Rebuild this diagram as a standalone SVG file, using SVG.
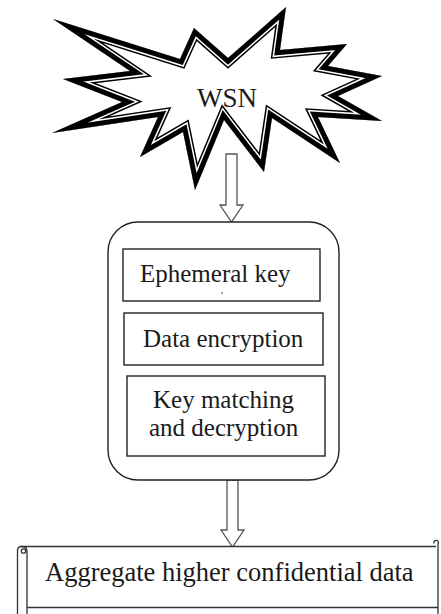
<svg xmlns="http://www.w3.org/2000/svg" xmlns:xlink="http://www.w3.org/1999/xlink" width="441" height="614" viewBox="0 0 441 614">
<style>
  .t { font-family: "Liberation Serif", "Times New Roman", serif; fill: #1a1a1a; }
  .box { fill: #fff; stroke: #222; stroke-width: 1.4; }
  .arrow { fill: #fff; stroke: #555; stroke-width: 1.3; stroke-linejoin: miter; }
  .scroll { fill: none; stroke: #333; stroke-width: 1.3; }
</style>
<defs>
  <polygon id="starShape" points="53,19 180,59 194,28 228,58 286,7 280,50 347,44 328,66 382,76 338,96 382,121 318,117 340,163 272,118 264,172 224,120 195,190 183,132 140,157 158,117 52,133 122,102 63,79 130,71"/>
  <clipPath id="starClip"><use xlink:href="#starShape"/></clipPath>
</defs>
<rect width="441" height="614" fill="#fff"/>

<g id="wsn">
  <use xlink:href="#starShape" fill="#fff"/>
  <g clip-path="url(#starClip)" fill="none" stroke-linejoin="miter" stroke-miterlimit="40">
    <use xlink:href="#starShape" stroke="#000" stroke-width="16"/>
    <use xlink:href="#starShape" stroke="#fff" stroke-width="13"/>
    <use xlink:href="#starShape" stroke="#000" stroke-width="10"/>
  </g>
  <text class="t" x="227" y="107" font-size="27" text-anchor="middle">WSN</text>
</g>

<g id="connectors">
  <polygon class="arrow" points="226,154 237,154 237,205 243,205 231.5,222 220,205 226,205"/>
  <polygon class="arrow" points="227,480 238,480 238,530 244,530 232.5,547 221,530 227,530"/>
</g>

<g id="process">
  <rect x="108" y="222" width="231" height="258" rx="30" ry="30" fill="#fff" stroke="#222" stroke-width="1.4"/>
  <g id="ephemeral">
    <rect class="box" x="123" y="249" width="197" height="52"/>
    <text class="t" x="140" y="282" font-size="25">Ephemeral key</text>
    <circle cx="222" cy="293" r="0.8" fill="#333"/>
  </g>
  <g id="encryption">
    <rect class="box" x="124" y="313" width="199" height="52"/>
    <text class="t" x="143" y="347" font-size="25">Data encryption</text>
  </g>
  <g id="decryption">
    <rect class="box" x="127" y="376" width="198" height="80"/>
    <text class="t" x="153" y="408" font-size="25">Key matching</text>
    <text class="t" x="149" y="436" font-size="25">and decryption</text>
  </g>
</g>

<g id="aggregate">
  <rect x="27" y="546.5" width="411" height="61" fill="#fff"/>
  <path class="scroll" d="M21,546.5 H436"/>
  <path class="scroll" d="M17.5,614 V550.5 Q17.5,546.5 21.5,546.5 Q27,546.5 27,551 V614"/>
  <circle class="scroll" cx="23.5" cy="551" r="2.2"/>
  <path class="scroll" d="M438,614 V544 A2.3,2.3 0 1 0 434,543.5"/>
  <path class="scroll" d="M27,607.5 H438"/>
  <text class="t" x="45" y="581" font-size="26.5">Aggregate higher confidential data</text>
</g>
</svg>
